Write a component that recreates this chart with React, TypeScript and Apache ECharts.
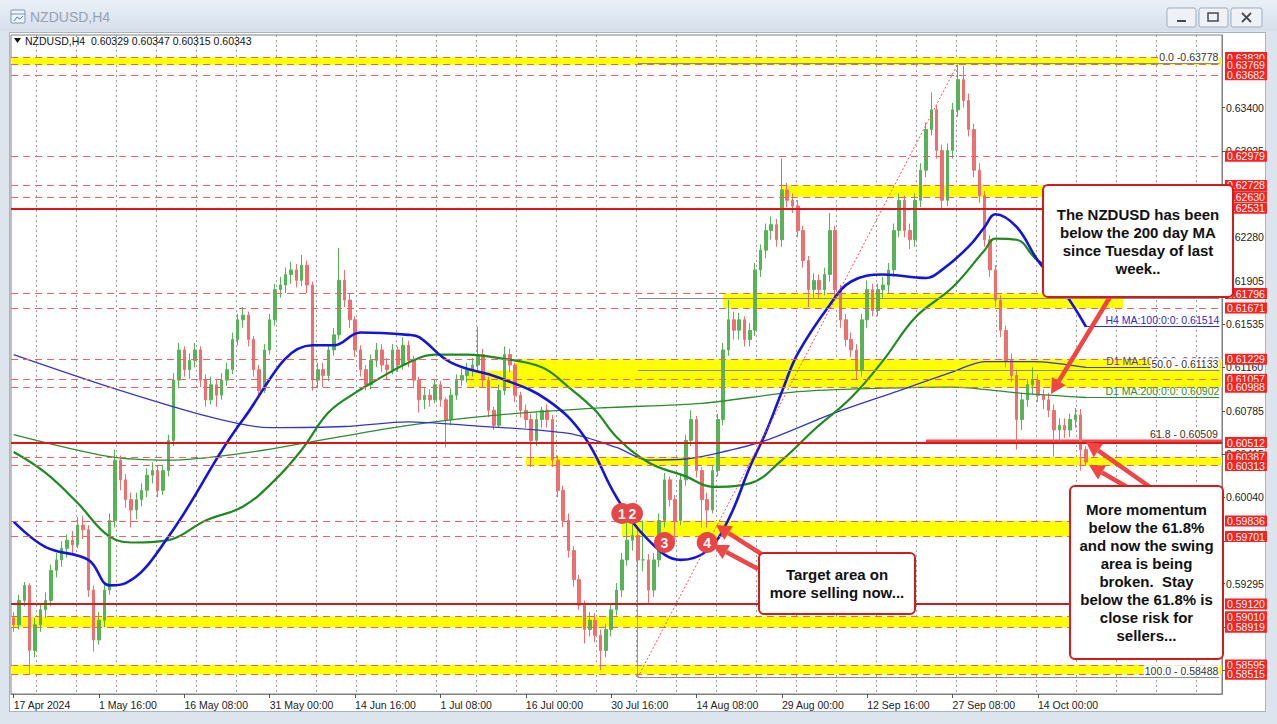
import React, { useEffect, useRef } from "react";
import * as echarts from "echarts";

// ---------- DATA ----------
const tickLabels = [
  "17 Apr 2024", "1 May 16:00", "16 May 08:00", "31 May 00:00", "14 Jun 16:00", "1 Jul 08:00",
  "16 Jul 00:00", "30 Jul 16:00", "14 Aug 08:00", "29 Aug 00:00", "12 Sep 16:00", "27 Sep 08:00", "14 Oct 00:00",
];
const BARS_PER_TICK = 16;
const TOTAL_SLOTS = 227;

const priceTicks = [0.634, 0.63025, 0.62655, 0.6228, 0.61905, 0.61535, 0.6116, 0.60785, 0.60415, 0.6004, 0.59665, 0.59295, 0.5892, 0.58545];
const priceTickLabels = [0.634, 0.63025, 0.6228, 0.61905, 0.61535, 0.6116, 0.60785, 0.60415, 0.6004, 0.59295];

const firstOpen = 0.59;
const closes = [
  0.5894, 0.5915, 0.5928, 0.5872, 0.5894, 0.5907, 0.5915, 0.5941, 0.5950, 0.5960,
  0.5967, 0.5963, 0.5980, 0.5976, 0.5924, 0.5881, 0.5898, 0.5924, 0.5984, 0.6036,
  0.6019, 0.6002, 0.5993, 0.6002, 0.6010, 0.6023, 0.6027, 0.6010, 0.6027, 0.6053,
  0.6105, 0.6131, 0.6114, 0.6122, 0.6131, 0.6105, 0.6088, 0.6101, 0.6092, 0.6105,
  0.6114, 0.6140, 0.6157, 0.6161, 0.6140, 0.6114, 0.6096, 0.6131, 0.6157, 0.6183,
  0.6187, 0.6196, 0.6200, 0.6191, 0.6204, 0.6187, 0.6105, 0.6114, 0.6109, 0.6131,
  0.6144, 0.6191, 0.6174, 0.6157, 0.6131, 0.6114, 0.6101, 0.6122, 0.6131, 0.6118,
  0.6114, 0.6131, 0.6118, 0.6135, 0.6122, 0.6105, 0.6088, 0.6092, 0.6088, 0.6101,
  0.6088, 0.6071, 0.6092, 0.6105, 0.6109, 0.6114, 0.6118, 0.6127, 0.6105, 0.6079,
  0.6066, 0.6096, 0.6127, 0.6118, 0.6092, 0.6079, 0.6071, 0.6053, 0.6071, 0.6079,
  0.6071, 0.6036, 0.6010, 0.5984, 0.5958, 0.5933, 0.5911, 0.5890, 0.5898, 0.5885,
  0.5872, 0.5890, 0.5907, 0.5924, 0.5950, 0.5967, 0.5971, 0.5950, 0.5950, 0.5924,
  0.5950, 0.5984, 0.6019, 0.6002, 0.5984, 0.6019, 0.6053, 0.6071, 0.6027, 0.6002,
  0.5993, 0.6027, 0.6071, 0.6131, 0.6157, 0.6148, 0.6157, 0.6140, 0.6148, 0.6200,
  0.6217, 0.6234, 0.6239, 0.6226, 0.6269, 0.6260, 0.6255, 0.6234, 0.6208, 0.6183,
  0.6191, 0.6183, 0.6196, 0.6234, 0.6183, 0.6157, 0.6140, 0.6131, 0.6114, 0.6157,
  0.6183, 0.6165, 0.6183, 0.6187, 0.6200, 0.6234, 0.6260, 0.6234, 0.6226, 0.6260,
  0.6286, 0.6321, 0.6338, 0.6303, 0.6260, 0.6303, 0.6338, 0.6364, 0.6346, 0.6321,
  0.6286, 0.6264, 0.6226, 0.6200, 0.6174, 0.6148, 0.6122, 0.6109, 0.6071, 0.6088,
  0.6101, 0.6105, 0.6092, 0.6088, 0.6079, 0.6062, 0.6066, 0.6062, 0.6071, 0.6075,
  0.6045, 0.60343,
];
const highs = [
  0.5905, 0.5920, 0.5931, 0.5930, 0.5900, 0.5912, 0.5922, 0.5946, 0.5956, 0.5966,
  0.5972, 0.5975, 0.5987, 0.5988, 0.5980, 0.5928, 0.5905, 0.5930, 0.5990, 0.6045,
  0.6040, 0.6024, 0.6008, 0.6008, 0.6016, 0.6029, 0.6034, 0.6031, 0.6032, 0.6058,
  0.6111, 0.6137, 0.6134, 0.6128, 0.6137, 0.6134, 0.6110, 0.6108, 0.6106, 0.6111,
  0.6120, 0.6146, 0.6162, 0.6168, 0.6164, 0.6143, 0.6118, 0.6136, 0.6162, 0.6188,
  0.6194, 0.6202, 0.6207, 0.6205, 0.6213, 0.6208, 0.6190, 0.6120, 0.6120, 0.6136,
  0.6150, 0.6219, 0.6200, 0.6180, 0.6160, 0.6135, 0.6118, 0.6127, 0.6137, 0.6136,
  0.6124, 0.6136, 0.6134, 0.6142, 0.6139, 0.6126, 0.6108, 0.6098, 0.6097, 0.6106,
  0.6104, 0.6090, 0.6098, 0.6110, 0.6115, 0.6120, 0.6124, 0.6151, 0.6132, 0.6108,
  0.6082, 0.6101, 0.6134, 0.6132, 0.6120, 0.6095, 0.6084, 0.6076, 0.6077, 0.6082,
  0.6084, 0.6075, 0.6040, 0.6014, 0.5990, 0.5962, 0.5937, 0.5915, 0.5905, 0.5904,
  0.5890, 0.5895, 0.5912, 0.5930, 0.5956, 0.5984, 0.5989, 0.5976, 0.5984, 0.5955,
  0.5956, 0.5990, 0.6025, 0.6022, 0.6006, 0.6024, 0.6058, 0.6079, 0.6074, 0.6030,
  0.6008, 0.6032, 0.6076, 0.6137, 0.6174, 0.6164, 0.6163, 0.6160, 0.6154, 0.6206,
  0.6222, 0.6240, 0.6246, 0.6244, 0.6296, 0.6275, 0.6266, 0.6260, 0.6238, 0.6212,
  0.6197, 0.6196, 0.6202, 0.6249, 0.6238, 0.6187, 0.6162, 0.6146, 0.6136, 0.6162,
  0.6191, 0.6188, 0.6188, 0.6194, 0.6206, 0.6240, 0.6266, 0.6264, 0.6240, 0.6266,
  0.6292, 0.6327, 0.6353, 0.6342, 0.6308, 0.6309, 0.6344, 0.6377, 0.6376, 0.6352,
  0.6326, 0.6292, 0.6268, 0.6230, 0.6204, 0.6178, 0.6152, 0.6128, 0.6114, 0.6094,
  0.6106, 0.6116, 0.6110, 0.6097, 0.6094, 0.6084, 0.6072, 0.6072, 0.6076, 0.6081,
  0.6080, 0.6048,
];
const lows = [
  0.5888, 0.5890, 0.5910, 0.5851, 0.5866, 0.5888, 0.5900, 0.5910, 0.5935, 0.5944,
  0.5952, 0.5955, 0.5960, 0.5968, 0.5918, 0.5871, 0.5877, 0.5892, 0.5920, 0.5978,
  0.6010, 0.5995, 0.5978, 0.5985, 0.5996, 0.6004, 0.6016, 0.6004, 0.6006, 0.6022,
  0.6048, 0.6098, 0.6108, 0.6106, 0.6116, 0.6099, 0.6082, 0.6084, 0.6082, 0.6088,
  0.6100, 0.6110, 0.6135, 0.6150, 0.6134, 0.6108, 0.6092, 0.6094, 0.6127, 0.6152,
  0.6176, 0.6180, 0.6188, 0.6185, 0.6186, 0.6180, 0.6096, 0.6098, 0.6099, 0.6104,
  0.6126, 0.6140, 0.6168, 0.6150, 0.6125, 0.6108, 0.6096, 0.6097, 0.6116, 0.6112,
  0.6105, 0.6110, 0.6112, 0.6114, 0.6116, 0.6099, 0.6077, 0.6080, 0.6082, 0.6085,
  0.6082, 0.6047, 0.6066, 0.6088, 0.6100, 0.6103, 0.6108, 0.6112, 0.6099, 0.6073,
  0.6062, 0.6064, 0.6092, 0.6112, 0.6086, 0.6073, 0.6064, 0.6030, 0.6048, 0.6064,
  0.6064, 0.6030, 0.6004, 0.5978, 0.5952, 0.5927, 0.5907, 0.5878, 0.5884, 0.5879,
  0.5855, 0.5866, 0.5884, 0.5902, 0.5918, 0.5945, 0.5958, 0.5849, 0.5940, 0.5913,
  0.5918, 0.5944, 0.5978, 0.5996, 0.5967, 0.5980, 0.6014, 0.6048, 0.6021, 0.5978,
  0.5978, 0.5990, 0.6022, 0.6066, 0.6126, 0.6140, 0.6140, 0.6134, 0.6134, 0.6143,
  0.6194, 0.6210, 0.6226, 0.6220, 0.6220, 0.6254, 0.6249, 0.6228, 0.6202, 0.6168,
  0.6176, 0.6176, 0.6178, 0.6190, 0.6176, 0.6150, 0.6134, 0.6125, 0.6105, 0.6108,
  0.6150, 0.6160, 0.6160, 0.6176, 0.6180, 0.6194, 0.6228, 0.6228, 0.6218, 0.6220,
  0.6254, 0.6280, 0.6316, 0.6296, 0.6252, 0.6255, 0.6296, 0.6332, 0.6340, 0.6315,
  0.6280, 0.6258, 0.6220, 0.6194, 0.6168, 0.6142, 0.6116, 0.6103, 0.6045, 0.6062,
  0.6082, 0.6092, 0.6086, 0.6080, 0.6073, 0.6039, 0.6052, 0.6055, 0.6056, 0.6064,
  0.6027, 0.6031,
];

// moving averages: [bar index, value]
const h4Ma100 = [
  [0, 0.5983], [6, 0.5961], [14, 0.5950], [18, 0.5928], [21, 0.5930], [29, 0.5970], [43, 0.6071], [56, 0.6135],
  [60, 0.6135], [65, 0.6146], [74, 0.6144], [76, 0.6142], [82, 0.6120], [91, 0.6107], [100, 0.6088], [107, 0.6056],
  [113, 0.6004], [119, 0.5967], [125, 0.5950], [130, 0.5958], [134, 0.5985], [138, 0.6030], [141, 0.6060],
  [144, 0.6095], [147, 0.6128], [153, 0.6170], [157, 0.6190], [163, 0.6196], [171, 0.6193], [174, 0.6200],
  [179, 0.6220], [182, 0.6237], [184, 0.6248], [188, 0.6237], [192, 0.6208], [197, 0.6180], [201, 0.6151],
];
const h4Ma200 = [
  [0, 0.6043], [6, 0.6025], [12, 0.5999], [18, 0.5970], [23, 0.5965], [29, 0.5967], [36, 0.5984], [43, 0.5996],
  [49, 0.6019], [54, 0.6045], [59, 0.6077], [64, 0.6094], [68, 0.6105], [74, 0.6120], [79, 0.6127], [85, 0.6127],
  [91, 0.6124], [99, 0.6116], [104, 0.6099], [109, 0.6079], [113, 0.6056], [119, 0.6034], [126, 0.6022],
  [131, 0.6013], [138, 0.6016], [144, 0.6036], [150, 0.6062], [157, 0.6090], [163, 0.6122], [169, 0.6159],
  [176, 0.6185], [182, 0.6217], [184, 0.6227], [188, 0.6226], [192, 0.6208], [201, 0.6187],
];
const d1Ma100 = [
  [0, 0.6127], [18, 0.6099], [37, 0.6073], [48, 0.6064], [62, 0.6065], [74, 0.6069], [85, 0.6066], [104, 0.6059],
  [113, 0.6047], [119, 0.6036], [126, 0.6037], [132, 0.6042], [141, 0.6053], [154, 0.6077], [166, 0.6096],
  [176, 0.6112], [182, 0.6121], [191, 0.6121], [201, 0.6116],
];
const d1Ma200 = [
  [0, 0.6058], [18, 0.6039], [29, 0.6036], [43, 0.6042], [56, 0.6052], [74, 0.6066], [91, 0.6075], [110, 0.6081],
  [129, 0.6085], [147, 0.6095], [163, 0.6098], [176, 0.6099], [188, 0.6094], [201, 0.6090],
];
const maTags = [
  { text: "H4 MA:100:0:0: 0.61514", value: 0.61514, color: "#2a2ad2" },
  { text: "D1 MA:100:0:0: 0.61160", value: 0.6116, color: "#5a3a9a" },
  { text: "D1 MA:200:0:0: 0.60902", value: 0.60902, color: "#2e8b2e" },
];

// horizontal levels
const dashedLevels = [0.6383, 0.63769, 0.63682, 0.62979, 0.62728, 0.6263, 0.61796, 0.61671, 0.61229, 0.61057, 0.60988, 0.60387, 0.60313, 0.59836, 0.59701, 0.5901, 0.58919, 0.58595, 0.58515];
const solidLevels = [0.62531, 0.60512, 0.5912];
// yellow zones: [fromBar (null = left edge), toBar (null = right edge), high, low]
const yellowZones = [
  [null, null, 0.6383, 0.63769],
  [144, null, 0.62728, 0.6263],
  [133, 208, 0.61796, 0.61671],
  [94, null, 0.61229, 0.60988],
  [85, null, 0.6113, 0.60988],
  [96, null, 0.60387, 0.60313],
  [114, null, 0.59836, 0.59701],
  [null, null, 0.5901, 0.58919],
  [null, null, 0.58595, 0.58515],
];
// Fibonacci retracement (30 Jul low -> 30 Sep high)
const fibLowBar = 117;
const fibHighBar = 177;
const fibLevels = [
  { pct: "0.0", value: 0.63778 },
  { pct: "23.6", value: 0.6253 },
  { pct: "38.2", value: 0.61757 },
  { pct: "50.0", value: 0.61133 },
  { pct: "61.8", value: 0.60509 },
  { pct: "100.0", value: 0.58488 },
];
// thick "break" band drawn over the 61.8% level: [fromBar, top, bottom]
const breakBand = [171, 0.60538, 0.60502];
const swingMarks = [
  { name: "1", bar: 114, value: 0.5990 },
  { name: "2", bar: 116, value: 0.5990 },
  { name: "3", bar: 122, value: 0.5965 },
  { name: "4", bar: 130, value: 0.5965 },
];

const FONT = "'Liberation Sans', Arial, sans-serif";

function arrow(x1: number, y1: number, x2: number, y2: number, color = "#f04545") {
  const dx = x2 - x1, dy = y2 - y1;
  const len = Math.hypot(dx, dy);
  const ux = dx / len, uy = dy / len;
  const hl = 15, hw = 8;
  const bx = x2 - ux * hl, by = y2 - uy * hl;
  const px = -uy, py = ux;
  return [
    { type: "line", z: 100, shape: { x1, y1, x2: bx, y2: by }, style: { stroke: color, lineWidth: 4.5 } },
    { type: "polygon", z: 100, shape: { points: [[x2, y2], [bx + px * hw, by + py * hw], [bx - px * hw, by - py * hw]] }, style: { fill: color } },
  ];
}

function noteBox(x: number, y: number, w: number, h: number, text: string) {
  return [
    { type: "rect", z: 101, shape: { x, y, width: w, height: h, r: 5 }, style: { fill: "#fff", stroke: "#d21c1c", lineWidth: 2 } },
    {
      type: "text", z: 102, x: x + w / 2, y: y + h / 2,
      style: { text, fill: "#111", font: `bold 15px ${FONT}`, align: "center", verticalAlign: "middle", lineHeight: 18 },
    },
  ];
}

const fibText = (f: { pct: string; value: number }) =>
  f.pct === "0.0" ? `${f.pct} -${f.value.toFixed(5)}` : `${f.pct} - ${f.value.toFixed(5)}`;

export default function App() {
  const ref = useRef<HTMLDivElement>(null);
  useEffect(() => {
    if (!ref.current) return;
    const chart = echarts.init(ref.current, undefined, { renderer: "svg" });
    const categories = Array.from({ length: TOTAL_SLOTS }, (_, i) =>
      i % BARS_PER_TICK === 0 && i / BARS_PER_TICK < tickLabels.length ? tickLabels[i / BARS_PER_TICK] : `b${i}`
    );
    const showTick = (i: number) => i % BARS_PER_TICK === 0 && i / BARS_PER_TICK < tickLabels.length;
    const ohlc = closes.map((c, i) => [i === 0 ? firstOpen : closes[i - 1], c, lows[i], highs[i]]);
    const lastBar = closes.length - 1;
    const edgeBar = TOTAL_SLOTS - 1;

    const axisTag = (v: number) => ({
      show: true, position: "end", distance: 3, formatter: v.toFixed(5), color: "#fff",
      backgroundColor: "#ff1f1f", padding: [0, 2, 0, 2], lineHeight: 11, fontSize: 10.5, fontFamily: FONT,
    });

    const option: any = {
      animation: false,
      backgroundColor: "transparent",
      grid: [
        { left: 11, right: 55, top: 35, bottom: 30, show: true, borderColor: "#7f7f7f", borderWidth: 1, backgroundColor: "transparent", containLabel: false, outerBoundsMode: "none" },
        { left: 36.7, right: 55, top: 35, bottom: 30, show: false, containLabel: false, outerBoundsMode: "none" },
      ],
      xAxis: [
        {
          type: "category", gridIndex: 0, data: categories, boundaryGap: true,
          axisLine: { show: true, lineStyle: { color: "#7f7f7f" } },
          axisTick: { show: true, interval: (i: number) => showTick(i), alignWithLabel: true, length: 4, lineStyle: { color: "#555" } },
          axisLabel: { interval: (i: number) => showTick(i), align: "left", color: "#222", fontSize: 10.5, fontFamily: FONT, margin: 5 },
          splitLine: { show: false },
        },
        {
          type: "value", gridIndex: 1, min: 0, max: 1185.3, interval: 40,
          axisLine: { show: false }, axisTick: { show: false }, axisLabel: { show: false },
          splitLine: { show: true, lineStyle: { color: "#9a9a9a", type: [2, 3], width: 1 } },
        },
      ],
      yAxis: [
        {
          type: "value", gridIndex: 0, position: "right", min: 0.58344, max: 0.64025, scale: true,
          axisLine: { show: true, lineStyle: { color: "#7f7f7f" } },
          axisTick: { show: true, customValues: priceTicks, length: 3, lineStyle: { color: "#555" } },
          axisLabel: { customValues: priceTickLabels, formatter: (v: number) => v.toFixed(5), color: "#222", fontSize: 10.5, fontFamily: FONT, margin: 4 },
          splitLine: { show: false },
        },
        { type: "value", gridIndex: 1, min: 0, max: 1, show: false, splitLine: { show: false } },
      ],
      series: [
        {
          name: "zones", type: "line", data: [], z: -1, silent: true,
          markArea: {
            silent: true, label: { show: false },
            itemStyle: { color: "#ffff00", opacity: 1 },
            data: yellowZones.map(([f, t, hi, lo]) => [
              f == null ? { yAxis: hi } : { xAxis: f, yAxis: hi },
              t == null ? { yAxis: lo } : { xAxis: t, yAxis: lo },
            ]),
          },
        },
        {
          name: "dashed levels", type: "line", data: [], z: 2, silent: true,
          markLine: {
            silent: true, symbol: ["none", "none"], precision: 5,
            data: dashedLevels.map((v) => ({ yAxis: v, lineStyle: { color: "#f26060", type: [7, 5], width: 1 }, label: axisTag(v) })),
          },
        },
        {
          name: "NZDUSD,H4", type: "candlestick", data: ohlc, z: 3, barWidth: 3,
          itemStyle: { color: "#56b456", color0: "#ef6e6e", borderColor: "#56b456", borderColor0: "#ef6e6e", borderWidth: 1 },
        },
        { name: "D1 MA 200", type: "line", data: d1Ma200, smooth: 0.3, showSymbol: false, z: 4, lineStyle: { color: "#2e8b2e", width: 1.3 } },
        { name: "D1 MA 100", type: "line", data: d1Ma100, smooth: 0.3, showSymbol: false, z: 4, lineStyle: { color: "#3535c8", width: 1.3 } },
        { name: "H4 MA 200", type: "line", data: h4Ma200, smooth: 0.4, showSymbol: false, z: 4, lineStyle: { color: "#1f8a1f", width: 2.2 } },
        { name: "H4 MA 100", type: "line", data: h4Ma100, smooth: 0.4, showSymbol: false, z: 4, lineStyle: { color: "#1414e0", width: 2.6 } },
        {
          name: "ma tags", type: "line", data: [], z: 5, silent: true,
          markLine: {
            silent: true, symbol: ["none", "none"], precision: 5,
            data: maTags.map((m) => [
              { coord: [lastBar, m.value], lineStyle: { color: m.color, width: 1, type: "solid" },
                label: { show: true, position: "insideEndTop", distance: [0, 1], formatter: m.text, color: m.color, fontSize: 10.5, fontFamily: FONT } },
              { coord: [edgeBar, m.value] },
            ]),
          },
        },
        {
          name: "fibonacci", type: "line", data: [], z: 6, silent: true,
          markLine: {
            silent: true, symbol: ["none", "none"], precision: 5,
            data: [
              ...fibLevels.map((f) => [
                { coord: [fibLowBar, f.value], lineStyle: { color: "#8a8a8a", width: 1, type: "solid" },
                  label: f.pct === "61.8" ? { show: false } : { show: true, position: "insideEndTop", distance: [0, 1], formatter: fibText(f),
                    color: "#333", backgroundColor: "#fff", padding: [0, 1, 0, 1], fontSize: 10.5, fontFamily: FONT } },
                { coord: [edgeBar, f.value] },
              ]),
              [
                { coord: [fibLowBar, fibLevels[5].value], lineStyle: { color: "#f05050", width: 1, type: [2, 2] }, label: { show: false } },
                { coord: [fibHighBar, fibLevels[0].value] },
              ],
            ],
          },
        },
        {
          name: "solid levels", type: "line", data: [], z: 7, silent: true,
          markLine: {
            silent: true, symbol: ["none", "none"], precision: 5,
            data: solidLevels.map((v) => ({ yAxis: v, lineStyle: { color: v === 0.5912 ? "#c81e1e" : "#e01414", type: "solid", width: 2.2 }, label: axisTag(v) })),
          },
        },
        {
          name: "break band", type: "line", data: [], z: 20, silent: true,
          markArea: {
            silent: true, label: { show: false },
            itemStyle: { color: "#f24848", opacity: 1 },
            data: [[{ xAxis: breakBand[0], yAxis: breakBand[1] }, { yAxis: breakBand[2] }]],
          },
          markPoint: {
            silent: true, symbol: "rect", symbolSize: 1, itemStyle: { color: "rgba(0,0,0,0)" },
            label: { show: true, position: "left", distance: 1, offset: [0, -9], formatter: fibText(fibLevels[4]), color: "#333", fontSize: 10.5, fontFamily: FONT },
            data: [{ coord: [edgeBar, fibLevels[4].value] }],
          },
        },
        {
          name: "swing points", type: "line", data: [], z: 21, silent: true,
          markPoint: {
            silent: true, symbol: "circle", symbolSize: 21,
            itemStyle: { color: "#e84646" },
            label: { show: true, formatter: "{b}", color: "#fff", fontSize: 14, fontWeight: "bold", fontFamily: FONT },
            data: swingMarks.map((m) => ({ name: m.name, coord: [m.bar, m.value] })),
          },
        },
      ],
      graphic: {
        elements: [
          // window title bar
          { type: "rect", z: 50, shape: { x: 11, y: 10, width: 14, height: 13, r: 1 }, style: { fill: "#eef3fa", stroke: "#7f93ad", lineWidth: 1 } },
          { type: "line", z: 51, shape: { x1: 11, y1: 14, x2: 25, y2: 14 }, style: { stroke: "#7f93ad", lineWidth: 1 } },
          { type: "polyline", z: 51, shape: { points: [[14, 21], [17, 17], [20, 19], [23, 16]] }, style: { stroke: "#4a7cc0", lineWidth: 1, fill: null } },
          { type: "text", z: 50, x: 30, y: 17, style: { text: "NZDUSD,H4", fill: "#95a2b4", font: `14px ${FONT}`, verticalAlign: "middle" } },
          { type: "rect", z: 50, shape: { x: 1167, y: 8, width: 29, height: 19, r: 2 }, style: { fill: "#eef2f7", stroke: "#9fadbf", lineWidth: 1 } },
          { type: "rect", z: 50, shape: { x: 1199, y: 8, width: 29, height: 19, r: 2 }, style: { fill: "#eef2f7", stroke: "#9fadbf", lineWidth: 1 } },
          { type: "rect", z: 50, shape: { x: 1231, y: 8, width: 31, height: 19, r: 2 }, style: { fill: "#eef2f7", stroke: "#9fadbf", lineWidth: 1 } },
          { type: "line", z: 51, shape: { x1: 1177, y1: 21, x2: 1186, y2: 21 }, style: { stroke: "#4a4a4a", lineWidth: 2 } },
          { type: "rect", z: 51, shape: { x: 1208, y: 13, width: 10, height: 8 }, style: { fill: "none", stroke: "#4a4a4a", lineWidth: 1.5 } },
          { type: "line", z: 51, shape: { x1: 1242, y1: 13, x2: 1251, y2: 22 }, style: { stroke: "#4a4a4a", lineWidth: 1.8 } },
          { type: "line", z: 51, shape: { x1: 1251, y1: 13, x2: 1242, y2: 22 }, style: { stroke: "#4a4a4a", lineWidth: 1.8 } },
          // chart header
          { type: "polygon", z: 50, shape: { points: [[14, 38], [21, 38], [17.5, 43]] }, style: { fill: "#111" } },
          { type: "text", z: 50, x: 25, y: 41, style: { text: "NZDUSD,H4  0.60329 0.60347 0.60315 0.60343", fill: "#111", font: `10.5px ${FONT}`, verticalAlign: "middle" } },
          // annotations
          ...arrow(1110, 297, 1051, 394),
          ...arrow(1150, 487, 1086, 442),
          ...arrow(1127, 487, 1089, 465),
          ...arrow(763, 555, 716, 525),
          ...arrow(758, 569, 713, 545),
          ...noteBox(1043, 185, 190, 112, "The NZDUSD has been\nbelow the 200 day MA\nsince Tuesday of last\nweek.."),
          ...noteBox(1070, 486, 153, 173, "More momentum\nbelow the 61.8%\nand now the swing\narea is being\nbroken.  Stay\nbelow the 61.8% is\nclose risk for\nsellers..."),
          ...noteBox(759, 553, 156, 61, "Target area on\nmore selling now..."),
        ],
      },
    };
    chart.setOption(option);
    return () => chart.dispose();
  }, []);

  return (
    <div style={{ position: "fixed", left: 0, top: 0, width: 1277, height: 724, background: "#dce4ee", overflow: "hidden" }}>
      <div style={{ position: "absolute", left: 0, top: 0, width: 1277, height: 31, background: "linear-gradient(#eaf0f7, #d5dfeb)" }} />
      <div style={{ position: "absolute", left: 9, top: 32, width: 1257, height: 680, background: "#ffffff", border: "1px solid #a9b3c0", boxSizing: "border-box" }} />
      <div ref={ref} style={{ position: "absolute", left: 0, top: 0, width: 1277, height: 724 }} />
    </div>
  );
}
